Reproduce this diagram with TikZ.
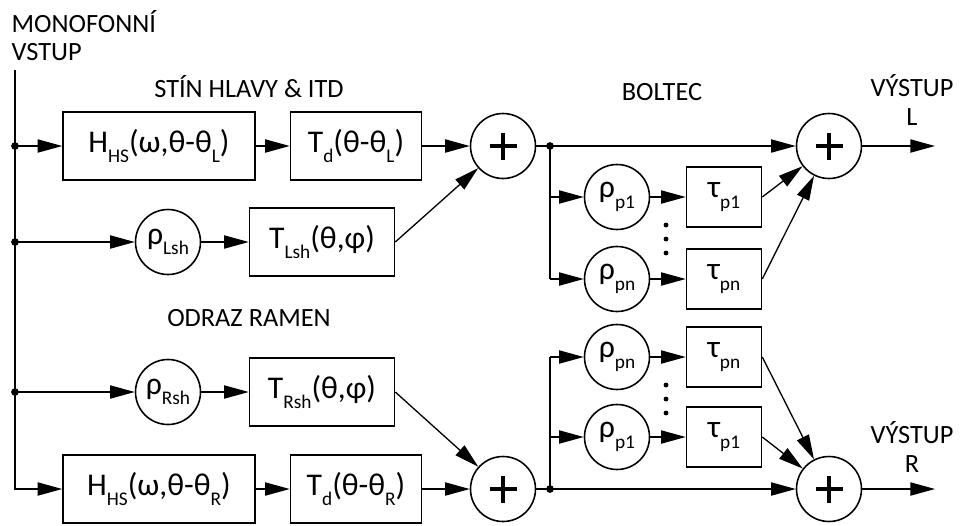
\documentclass[tikz,border=0pt]{standalone}
\usepackage{fontspec}
\setmainfont{Carlito}
\usetikzlibrary{calc,arrows.meta,positioning}

% snizeny index
\newcommand{\lw}[1]{\raisebox{-0.34em}{\fontsize{11}{11}\selectfont #1}}

\begin{document}
\begin{tikzpicture}[x=0.02cm,y=-0.02cm,line width=0.75pt,
  >={Triangle[length=14pt,width=7.5pt]},
  blok/.style={draw,line width=0.9pt,minimum height=1.36cm,inner sep=0pt,font=\fontsize{18}{20}\selectfont},
  kruh/.style={draw,circle,line width=0.9pt,minimum size=1.3cm,inner sep=0pt,font=\fontsize{18}{20}\selectfont},
  soucet/.style={kruh,path picture={
      \draw[line width=2.4pt] ([xshift=-0.27cm]path picture bounding box.center) -- ([xshift=0.27cm]path picture bounding box.center);
      \draw[line width=2.4pt] ([yshift=-0.27cm]path picture bounding box.center) -- ([yshift=0.27cm]path picture bounding box.center);}},
  zpozdeni/.style={draw,line width=0.9pt,minimum width=1.5cm,minimum height=1.2cm,inner sep=0pt,font=\fontsize{18}{20}\selectfont},
  popis/.style={font=\fontsize{15}{16}\selectfont}]
  \useasboundingbox (0,0) rectangle (974,525);

  % vstupni sbernice
  \coordinate (top) at (15,70);
  \coordinate (d1) at (15,146);
  \coordinate (d2) at (15,242);
  \coordinate (d3) at (15,392);
  \node[popis,anchor=north west,align=left,inner sep=0pt] (vstup) at (11,10) {MONOFONNÍ\\VSTUP};

  % stin hlavy a ITD
  \node[popis] (stin) at (249,87) {STÍN HLAVY \& ITD};
  \node[blok,minimum width=3.84cm] (hL) at (159,146) {H\lw{HS}(ω,θ-θ\lw{L})};
  \node[blok,minimum width=2.62cm] (dL) at (356,146) {T\lw{d}(θ-θ\lw{L})};
  \node[soucet] (s1) at (503,146) {};
  \node[blok,minimum width=3.84cm] (hR) at (159,489) {H\lw{HS}(ω,θ-θ\lw{R})};
  \node[blok,minimum width=2.62cm] (dR) at (356,489) {T\lw{d}(θ-θ\lw{R})};
  \node[soucet] (s2) at (503,489) {};

  % odraz ramen
  \node[kruh] (rL) at (168,242) {ρ\lw{Lsh}};
  \node[blok,minimum width=2.9cm] (tL) at (322,242) {T\lw{Lsh}(θ,φ)};
  \node[popis] (odraz) at (249,318) {ODRAZ RAMEN};
  \node[kruh] (rR) at (168,392) {ρ\lw{Rsh}};
  \node[blok,minimum width=2.9cm] (tR) at (322,392) {T\lw{Rsh}(θ,φ)};

  % boltec
  \node[popis] (boltec) at (662,92) {BOLTEC};
  \coordinate (jL) at (550,146);
  \coordinate (bL1) at (550,197);
  \coordinate (bL2) at (550,279);
  \node[kruh] (p1L) at (617,197) {ρ\lw{p1}};
  \node[kruh] (pnL) at (617,279) {ρ\lw{pn}};
  \node[zpozdeni] (t1L) at (724,197) {τ\lw{p1}};
  \node[zpozdeni] (tnL) at (724,279) {τ\lw{pn}};
  \node[soucet] (sL) at (829,146) {};
  \coordinate (outL) at (935,146);
  \node[popis,align=center] (vyL) at (912,100) {VÝSTUP\\L};

  \coordinate (jR) at (550,489);
  \coordinate (bR1) at (550,357);
  \coordinate (bR2) at (550,437);
  \node[kruh] (pnR) at (617,357) {ρ\lw{pn}};
  \node[kruh] (p1R) at (617,437) {ρ\lw{p1}};
  \node[zpozdeni] (tnR) at (724,357) {τ\lw{pn}};
  \node[zpozdeni] (t1R) at (724,437) {τ\lw{p1}};
  \node[soucet] (sR) at (829,489) {};
  \coordinate (outR) at (935,489);
  \node[popis,align=center] (vyR) at (912,447) {VÝSTUP\\R};

  % spoje vlevo
  \draw[->] (top) |- (hR);
  \foreach \a/\b in {d1/hL,hL/dL,dL/s1,d2/rL,rL/tL,d3/rR,rR/tR,hR/dR,dR/s2}
    \draw[->] (\a) -- (\b);
  \draw[->] (tL.east) -- (s1);
  \draw[->] (tR.east) -- (s2);
  \foreach \d in {d1,d2,d3}
    \fill (\d) circle (2.2pt);

  % spoje vpravo
  \draw (s1) -- (jL) -- (bL2);
  \draw (s2) -- (jR) -- (bR1);
  \fill (jL) circle (2.2pt);
  \fill (jR) circle (2.2pt);
  \foreach \a/\b in {jL/sL,sL/outL,bL1/p1L,bL2/pnL,p1L/t1L,pnL/tnL,
                     jR/sR,sR/outR,bR1/pnR,bR2/p1R,pnR/tnR,p1R/t1R}
    \draw[->] (\a) -- (\b);
  \draw[->] (t1L.east) -- (sL);
  \draw[->] (tnL.east) -- (sL);
  \draw[->] (tnR.east) -- (sR);
  \draw[->] (t1R.east) -- (sR);

  % tecky
  \foreach \y in {225,239,253,385,399,413}
    \fill (666,\y) circle (1.4pt);
\end{tikzpicture}
\end{document}
